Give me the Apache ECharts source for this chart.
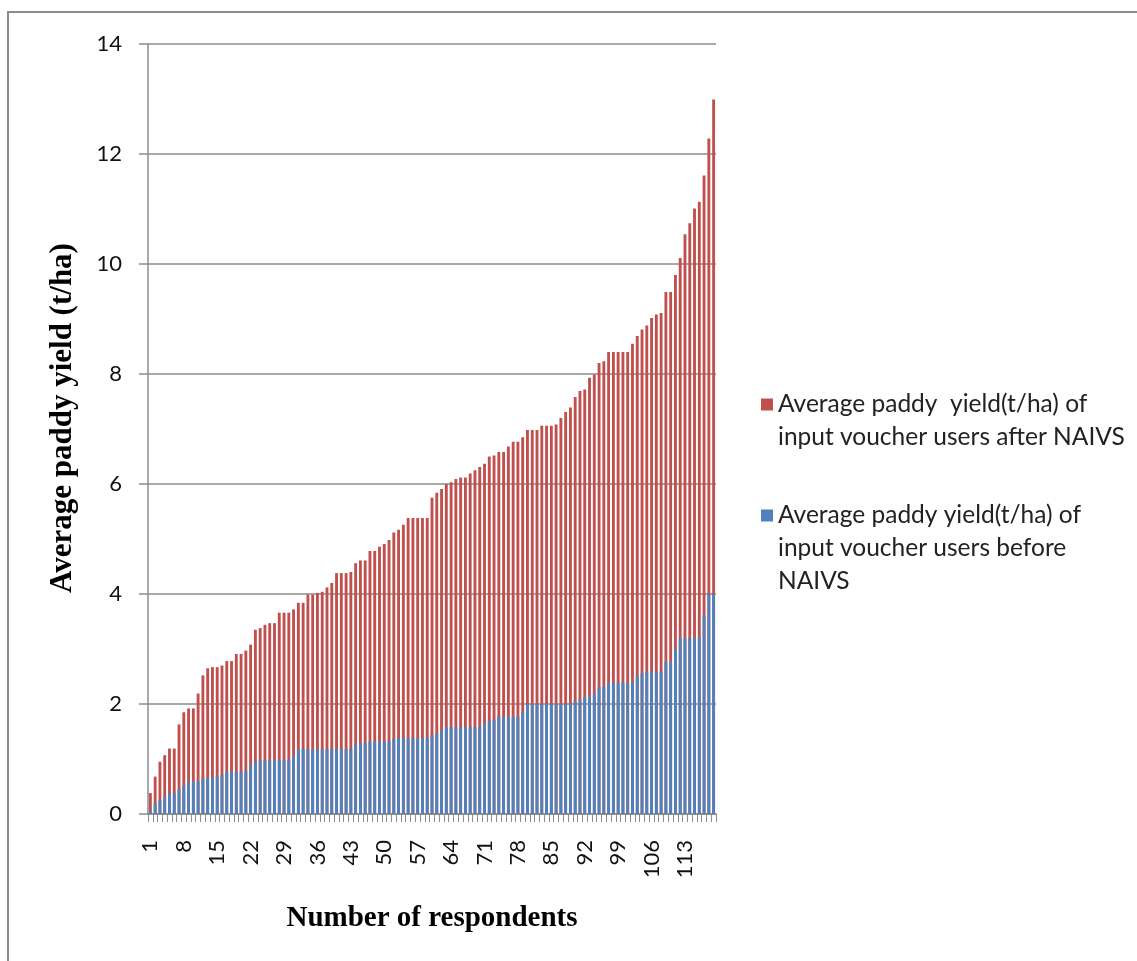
<!DOCTYPE html>
<html>
<head>
<meta charset="utf-8">
<script src="https://cdn.jsdelivr.net/npm/echarts@6/dist/echarts.min.js"></script>
<style>
  html, body { margin: 0; padding: 0; background: #fff; overflow: hidden; }
  #chart { width: 1137px; height: 961px; }
</style>
</head>
<body>
<div id="chart"></div>
<script>
// respondents 1..119, sorted by yield
var respondents = [];
for (var i = 1; i <= 119; ++i) {
    respondents.push(String(i));
}

// top of each bar (after NAIVS), t/ha
var afterYield = [
    0.38, 0.68, 0.95, 1.07, 1.19, 1.19, 1.63, 1.85, 1.92, 1.92,
    2.19, 2.52, 2.65, 2.67, 2.67, 2.70, 2.78, 2.78, 2.91, 2.91,
    2.97, 3.08, 3.35, 3.38, 3.44, 3.47, 3.47, 3.66, 3.66, 3.66,
    3.72, 3.84, 3.84, 3.99, 3.99, 4.02, 4.04, 4.12, 4.20, 4.38,
    4.38, 4.38, 4.40, 4.56, 4.61, 4.61, 4.78, 4.78, 4.86, 4.91,
    4.98, 5.12, 5.17, 5.26, 5.38, 5.38, 5.38, 5.38, 5.38, 5.75,
    5.84, 5.91, 6.00, 6.03, 6.09, 6.12, 6.12, 6.19, 6.25, 6.31,
    6.37, 6.50, 6.52, 6.58, 6.58, 6.68, 6.77, 6.77, 6.85, 6.98,
    6.98, 6.98, 7.06, 7.06, 7.06, 7.08, 7.20, 7.31, 7.39, 7.58,
    7.69, 7.72, 7.93, 7.99, 8.20, 8.23, 8.40, 8.40, 8.40, 8.40,
    8.40, 8.55, 8.69, 8.81, 8.88, 9.02, 9.08, 9.11, 9.49, 9.49,
    9.80, 10.11, 10.54, 10.74, 11.01, 11.13, 11.61, 12.28, 12.99
];

// before NAIVS, t/ha
var beforeYield = [
    0.05, 0.20, 0.26, 0.31, 0.38, 0.38, 0.45, 0.52, 0.59, 0.59,
    0.59, 0.65, 0.65, 0.67, 0.68, 0.71, 0.77, 0.77, 0.77, 0.77,
    0.78, 0.89, 0.96, 0.98, 0.98, 0.98, 0.98, 0.98, 0.98, 0.98,
    1.06, 1.18, 1.18, 1.18, 1.18, 1.18, 1.18, 1.18, 1.18, 1.18,
    1.18, 1.18, 1.18, 1.26, 1.29, 1.30, 1.32, 1.32, 1.32, 1.32,
    1.32, 1.38, 1.38, 1.38, 1.38, 1.38, 1.38, 1.38, 1.38, 1.44,
    1.46, 1.51, 1.58, 1.58, 1.58, 1.58, 1.58, 1.58, 1.58, 1.58,
    1.66, 1.69, 1.72, 1.77, 1.77, 1.77, 1.77, 1.77, 1.85, 2.00,
    2.00, 2.00, 2.00, 2.00, 2.00, 2.00, 2.00, 2.00, 2.00, 2.05,
    2.08, 2.13, 2.13, 2.19, 2.31, 2.31, 2.39, 2.39, 2.39, 2.39,
    2.39, 2.39, 2.52, 2.56, 2.59, 2.59, 2.59, 2.59, 2.77, 2.77,
    2.99, 3.20, 3.20, 3.20, 3.20, 3.22, 3.60, 4.00, 4.00
];

var yTicks = [0, 2, 4, 6, 8, 10, 12, 14];

var NAME_AFTER = "Average paddy  yield(t/ha) of\ninput voucher users after NAIVS";
var NAME_BEFORE = "Average paddy yield(t/ha) of\ninput voucher users before\nNAIVS";

var RED = "#C0504D";
var BLUE = "#4F81BD";
var GRID_GREY = "#8c8c8c";

var legendText = {
    fontFamily: "Lato",
    fontSize: 24.5,
    color: "#222",
    lineHeight: 33
};

// legend text is centred on its icon; leading blank lines put the icon on the first line
function padTop(n) {
    return function (name) {
        var s = "";
        for (var k = 0; k < n; ++k) {
            s += "\n";
        }
        return s + name;
    };
}

var chart = echarts.init(document.getElementById("chart"), null, { renderer: "canvas" });

var option = {
    animation: false,
    backgroundColor: "#fff",
    graphic: [
        {
            type: "rect",
            silent: true,
            z: -10,
            shape: { x: 8, y: 12, width: 1200, height: 1000 },
            style: { fill: "none", stroke: "#8c8c8c", lineWidth: 2 }
        }
    ],
    grid: {
        left: 148,
        right: 421,
        top: 44,
        bottom: 147,
        containLabel: false
    },
    legend: [
        {
            data: [NAME_AFTER],
            orient: "vertical",
            left: 756,
            top: 350,
            icon: "rect",
            itemWidth: 12,
            itemHeight: 12,
            selectedMode: false,
            formatter: padTop(1),
            textStyle: legendText
        },
        {
            data: [NAME_BEFORE],
            orient: "vertical",
            left: 756,
            top: 428,
            icon: "rect",
            itemWidth: 12,
            itemHeight: 12,
            selectedMode: false,
            formatter: padTop(2),
            textStyle: legendText
        }
    ],
    xAxis: {
        type: "category",
        data: respondents,
        boundaryGap: true,
        name: "Number of respondents",
        nameLocation: "middle",
        nameGap: 90,
        nameTextStyle: {
            fontFamily: "Liberation Serif",
            fontWeight: "bold",
            fontSize: 29,
            color: "#000"
        },
        axisLine: { lineStyle: { color: GRID_GREY, width: 1.5 } },
        axisTick: {
            show: true,
            interval: 0,
            length: 8,
            alignWithLabel: false,
            lineStyle: { color: GRID_GREY, width: 1 }
        },
        axisLabel: {
            interval: 6,
            rotate: 90,
            margin: 26,
            fontFamily: "Lato",
            fontSize: 22,
            color: "#111"
        },
        splitLine: { show: false }
    },
    yAxis: {
        type: "value",
        min: yTicks[0],
        max: yTicks[yTicks.length - 1],
        interval: 2,
        name: "Average paddy yield (t/ha)",
        nameLocation: "middle",
        nameGap: 70,
        nameTextStyle: {
            fontFamily: "Liberation Serif",
            fontWeight: "bold",
            fontSize: 31,
            color: "#000",
            padding: [0, 0, 0, 22]
        },
        axisLine: { show: true, lineStyle: { color: GRID_GREY, width: 1.5 } },
        axisTick: { show: true, length: 9, lineStyle: { color: GRID_GREY, width: 1.5 } },
        axisLabel: {
            margin: 26,
            fontFamily: "Lato",
            fontSize: 22,
            color: "#111"
        },
        splitLine: { show: true, lineStyle: { color: GRID_GREY, width: 1.5 } }
    },
    series: [
        {
            name: NAME_AFTER,
            type: "bar",
            data: afterYield,
            barCategoryGap: "40%",
            barGap: "-100%",
            itemStyle: { color: RED }
        },
        {
            name: NAME_BEFORE,
            type: "bar",
            data: beforeYield,
            barCategoryGap: "40%",
            barGap: "-100%",
            itemStyle: { color: BLUE }
        }
    ]
};

chart.setOption(option);
</script>
</body>
</html>
